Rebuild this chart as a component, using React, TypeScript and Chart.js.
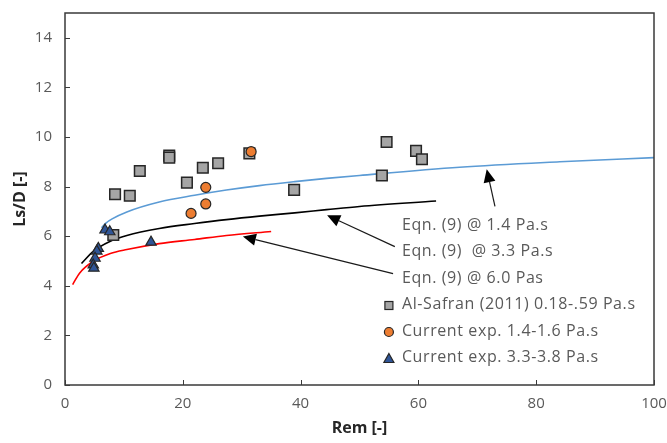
import React, { useEffect, useRef } from "react";
import { Chart, registerables } from "chart.js";

Chart.register(...registerables);

// Curves: Eqn. (9)
const remEq14 = [6.2, 7, 8, 10.5, 16, 22, 27.4, 33, 39, 44.4, 50, 67, 84, 100];
const lsEq14 = [6.34, 6.54, 6.7, 6.98, 7.38, 7.65, 7.86, 8.04, 8.2, 8.33, 8.45, 8.78, 9.0, 9.17];

const remEq33 = [2.8, 4.8, 7.7, 10.5, 16, 22, 27.4, 33, 39, 44.4, 50, 63];
const lsEq33 = [4.9, 5.39, 5.8, 6.03, 6.31, 6.51, 6.67, 6.81, 6.94, 7.07, 7.2, 7.42];

const remEq60 = [1.3, 2.5, 4.8, 7.7, 10.5, 16, 22, 27.4, 35];
const lsEq60 = [4.05, 4.52, 4.99, 5.3, 5.46, 5.7, 5.87, 6.03, 6.19];

// Experimental points
const remAlSafran = [8.5, 11.0, 12.7, 17.7, 17.7, 20.7, 23.4, 26.0, 31.3, 38.9, 8.2, 53.8, 54.6, 59.6, 60.6];
const lsAlSafran = [7.69, 7.63, 8.63, 9.25, 9.17, 8.16, 8.76, 8.94, 9.34, 7.87, 6.05, 8.45, 9.8, 9.44, 9.1];

const remExp14 = [31.6, 23.9, 23.9, 21.4];
const lsExp14 = [9.41, 7.97, 7.3, 6.92];

const remExp33 = [6.8, 7.6, 5.65, 5.4, 5.1, 4.8, 4.9, 14.6];
const lsExp33 = [6.25, 6.18, 5.51, 5.4, 5.11, 4.84, 4.71, 5.76];

const xTicks = [0, 20, 40, 60, 80, 100];
const yTicks = [0, 2, 4, 6, 8, 10, 12, 14];

const legendLabels = [
  "Eqn. (9) @ 1.4 Pa.s",
  "Eqn. (9)  @ 3.3 Pa.s",
  "Eqn. (9) @ 6.0 Pas",
  "Al-Safran (2011) 0.18-.59 Pa.s",
  "Current exp. 1.4-1.6 Pa.s",
  "Current exp. 3.3-3.8 Pa.s",
];

// Arrow annotations (data units): [tailX, tailY, tipX, tipY]
const arrows = [
  [73.0, 7.2, 71.6, 8.7],
  [56.0, 5.58, 44.5, 6.84],
  [55.7, 4.49, 30.2, 5.99],
];

const zip = (xs: number[], ys: number[]) => xs.map((x, i) => ({ x, y: ys[i] }));

const FONT = "'Open Sans', Lato, sans-serif";
const TEXT = "#595959";

const COL_BLUE = "#5B9BD5";
const COL_SQ = "#A5A5A5";
const COL_OR = "#ED7D31";
const COL_TRI = "#2F5597";
const EDGE = "#262626";

const decorPlugin = {
  id: "decor",
  afterDraw(chart: any) {
    const { ctx, chartArea: a, scales } = chart;
    const xs = scales.x;
    const ys = scales.y;
    ctx.save();
    // plot frame
    ctx.strokeStyle = "#3a3a3a";
    ctx.lineWidth = 1.5;
    ctx.strokeRect(a.left, a.top, a.right - a.left, a.bottom - a.top);
    // inner ticks
    ctx.lineWidth = 1;
    ctx.beginPath();
    xTicks.forEach((v) => {
      const px = Math.round(xs.getPixelForValue(v)) + 0.5;
      ctx.moveTo(px, a.bottom);
      ctx.lineTo(px, a.bottom - 5);
    });
    yTicks.forEach((v) => {
      const py = Math.round(ys.getPixelForValue(v)) + 0.5;
      ctx.moveTo(a.left, py);
      ctx.lineTo(a.left + 5, py);
    });
    ctx.stroke();

    // arrows
    ctx.strokeStyle = "#1a1a1a";
    ctx.fillStyle = "#000";
    ctx.lineWidth = 1.2;
    arrows.forEach(([tx, ty, hx, hy]) => {
      const x0 = xs.getPixelForValue(tx);
      const y0 = ys.getPixelForValue(ty);
      const x1 = xs.getPixelForValue(hx);
      const y1 = ys.getPixelForValue(hy);
      const ang = Math.atan2(y1 - y0, x1 - x0);
      const hl = 13;
      const hw = 6;
      const bx = x1 - hl * Math.cos(ang);
      const by = y1 - hl * Math.sin(ang);
      ctx.beginPath();
      ctx.moveTo(x0, y0);
      ctx.lineTo(bx, by);
      ctx.stroke();
      ctx.beginPath();
      ctx.moveTo(x1, y1);
      ctx.lineTo(bx + hw * Math.sin(ang), by - hw * Math.cos(ang));
      ctx.lineTo(bx - hw * Math.sin(ang), by + hw * Math.cos(ang));
      ctx.closePath();
      ctx.fill();
    });

    // legend
    const textX = a.left + (a.right - a.left) * 0.572;
    const markX = textX - 13;
    const row0 = a.top + 212;
    const step = 26.5;
    ctx.font = `16px ${FONT}`;
    try {
      (ctx as any).letterSpacing = "0.6px";
    } catch (e) {}
    ctx.fillStyle = TEXT;
    ctx.textBaseline = "middle";
    ctx.textAlign = "left";
    legendLabels.forEach((t, i) => {
      ctx.fillStyle = TEXT;
      ctx.fillText(t, textX, row0 + i * step);
    });
    try {
      (ctx as any).letterSpacing = "0px";
    } catch (e) {}
    ctx.lineWidth = 1.2;
    ctx.strokeStyle = EDGE;
    // square
    let cy = row0 + 3 * step + 1;
    ctx.fillStyle = COL_SQ;
    ctx.fillRect(markX - 4, cy - 4, 8, 8);
    ctx.strokeRect(markX - 4, cy - 4, 8, 8);
    // circle
    cy = row0 + 4 * step + 1;
    ctx.fillStyle = COL_OR;
    ctx.beginPath();
    ctx.arc(markX, cy, 4.5, 0, Math.PI * 2);
    ctx.fill();
    ctx.stroke();
    // triangle
    cy = row0 + 5 * step + 1;
    ctx.fillStyle = COL_TRI;
    ctx.beginPath();
    ctx.moveTo(markX, cy - 5);
    ctx.lineTo(markX + 5, cy + 4);
    ctx.lineTo(markX - 5, cy + 4);
    ctx.closePath();
    ctx.fill();
    ctx.stroke();
    ctx.restore();
  },
};

export default function App() {
  const ref = useRef<HTMLCanvasElement | null>(null);
  useEffect(() => {
    if (!ref.current) return;
    const lineDs = (label: string, xs: number[], ys: number[], color: string) => ({
      label,
      data: zip(xs, ys),
      showLine: true,
      borderColor: color,
      backgroundColor: color,
      borderWidth: 1.6,
      pointRadius: 0,
      pointHoverRadius: 0,
      tension: 0.4,
      cubicInterpolationMode: "monotone" as const,
      order: 10,
    });
    const chart = new Chart(ref.current, {
      type: "scatter",
      data: {
        datasets: [
          lineDs(legendLabels[0], remEq14, lsEq14, COL_BLUE),
          lineDs(legendLabels[1], remEq33, lsEq33, "#000000"),
          lineDs(legendLabels[2], remEq60, lsEq60, "#FF0000"),
          {
            label: legendLabels[3],
            data: zip(remAlSafran, lsAlSafran),
            pointStyle: "rect",
            pointRadius: 7.5,
            backgroundColor: COL_SQ,
            borderColor: EDGE,
            borderWidth: 1.5,
            order: 3,
          },
          {
            label: legendLabels[4],
            data: zip(remExp14, lsExp14),
            pointStyle: "circle",
            pointRadius: 5,
            backgroundColor: COL_OR,
            borderColor: EDGE,
            borderWidth: 1.2,
            order: 2,
          },
          {
            label: legendLabels[5],
            data: zip(remExp33, lsExp33),
            pointStyle: "triangle",
            pointRadius: 6,
            backgroundColor: COL_TRI,
            borderColor: EDGE,
            borderWidth: 1.2,
            order: 1,
          },
        ],
      },
      options: {
        animation: false,
        responsive: false,
        maintainAspectRatio: false,
        layout: { autoPadding: false, padding: { top: 13, right: 13, left: 0, bottom: 0 } },
        plugins: {
          legend: { display: false },
          tooltip: { enabled: false },
          title: { display: false },
        },
        scales: {
          x: {
            type: "linear",
            min: 0,
            max: 100,
            ticks: {
              stepSize: 20,
              color: TEXT,
              font: { family: FONT, size: 15 },
              padding: 10,
              maxRotation: 0,
            },
            grid: { display: false, drawTicks: false },
            border: { display: false },
            title: {
              display: true,
              text: "Rem [-]",
              color: "#262626",
              font: { family: FONT, size: 16, weight: "bold" },
              padding: { top: 0, bottom: 5 },
            },
            afterFit: (s: any) => {
              s.height = 58;
              s.paddingLeft = 0;
              s.paddingRight = 0;
              s.paddingTop = 0;
              s.paddingBottom = 0;
            },
          },
          y: {
            type: "linear",
            min: 0,
            max: 15,
            ticks: {
              stepSize: 2,
              color: TEXT,
              font: { family: FONT, size: 15 },
              padding: 13,
            },
            afterBuildTicks: (s: any) => {
              s.ticks = s.ticks.filter((t: any) => yTicks.includes(t.value));
            },
            grid: { display: false, drawTicks: false },
            border: { display: false },
            title: {
              display: true,
              text: "Ls/D [-]",
              color: "#262626",
              font: { family: FONT, size: 16, weight: "bold" },
              padding: { top: 11, bottom: 0 },
            },
            afterFit: (s: any) => {
              s.width = 65;
              s.paddingLeft = 0;
              s.paddingRight = 0;
              s.paddingTop = 0;
              s.paddingBottom = 0;
            },
          },
        },
      },
      plugins: [decorPlugin],
    });
    return () => chart.destroy();
  }, []);
  return (
    <div style={{ position: "fixed", left: 0, top: 0, width: 667, height: 443, background: "#fff" }}>
      <canvas ref={ref} width={667} height={443} style={{ display: "block" }} />
    </div>
  );
}
